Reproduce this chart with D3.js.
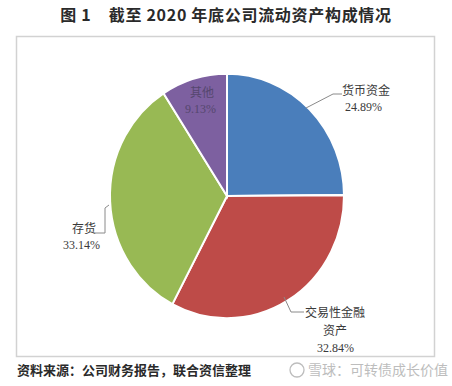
<!DOCTYPE html>
<html>
<head>
<meta charset="utf-8">
<script src="https://cdn.jsdelivr.net/npm/d3@7/dist/d3.min.js"></script>
<style>
  body { margin: 0; background: #fff; }
  svg { display: block; }
</style>
</head>
<body>
<div id="chart"></div>
<script>
// data
var categories = ["货币资金", "交易性金融资产", "存货", "其他"];
var values = [24.89, 32.84, 33.14, 9.13];
var colors = ["#4a7ebb", "#be4b48", "#98b954", "#7d60a0"];
var titleText = "图 1    截至 2020 年底公司流动资产构成情况";
var sourceText = "资料来源：公司财务报告，联合资信整理";
var markText = "雪球：可转债成长价值";

var w = 452, h = 386;
var cx = 227, cy = 196, r = 117;

var svg = d3.select("#chart").append("svg")
    .attr("width", w).attr("height", h)
    .style("font-family", "'Liberation Serif','Noto Sans CJK SC',serif");

// title
svg.append("text")
    .attr("x", 226).attr("y", 21)
    .attr("text-anchor", "middle")
    .style("font-family", "'Noto Sans CJK SC',sans-serif")
    .style("font-weight", "600")
    .style("font-size", "16px")
    .style("letter-spacing", "0.7px")
    .attr("fill", "#2a2a2a")
    .attr("xml:space", "preserve")
    .text(titleText);

// frame
svg.append("rect")
    .attr("x", 16.5).attr("y", 36.5)
    .attr("width", 418).attr("height", 320)
    .attr("fill", "none")
    .attr("stroke", "#d2d2d2")
    .attr("stroke-width", 1.5);

var pie = d3.pie().sort(null).value(function (d) { return d; });
var arcs = pie(values);
var arc = d3.arc().innerRadius(0).outerRadius(r);

var g = svg.append("g")
    .attr("transform", "translate(" + cx + "," + cy + ") scale(1,1.045)");

g.selectAll("path")
    .data(arcs)
    .enter().append("path")
    .attr("d", arc)
    .attr("fill", function (d, i) { return colors[i]; })
    .attr("stroke", "#fff")
    .attr("stroke-width", 2);

// labels
var fmt = function (v) { return v.toFixed(2) + "%"; };
var lab = svg.append("g").style("font-size", "12px").attr("fill", "#3a3a3a");

// 货币资金
lab.append("text").attr("x", 342).attr("y", 95).text(categories[0]);
lab.append("text").attr("x", 345).attr("y", 111).text(fmt(values[0]));
// 交易性金融资产
lab.append("text").attr("x", 305).attr("y", 317).text(categories[1].slice(0, 5));
lab.append("text").attr("x", 323).attr("y", 335).text(categories[1].slice(5));
lab.append("text").attr("x", 317).attr("y", 352).text(fmt(values[1]));
// 存货
lab.append("text").attr("x", 72).attr("y", 233).text(categories[2]);
lab.append("text").attr("x", 63).attr("y", 249).text(fmt(values[2]));
// 其他
lab.append("text").attr("x", 190).attr("y", 97).attr("fill", "#55476e").text(categories[3]);
lab.append("text").attr("x", 185).attr("y", 113).attr("fill", "#55476e").text(fmt(values[3]));

// leader lines
var leaders = [
  [[306, 108], [333, 94], [342, 94]],
  [[284, 297], [291, 312], [304, 312]],
  [[109, 205], [105, 208], [105, 233], [94, 233]]
];
svg.selectAll("polyline.lead")
    .data(leaders)
    .enter().append("polyline")
    .attr("class", "lead")
    .attr("points", function (d) { return d.map(function (p) { return p.join(","); }).join(" "); })
    .attr("fill", "none")
    .attr("stroke", "#8a8a8a")
    .attr("stroke-width", 1);

// source
svg.append("text")
    .attr("x", 17).attr("y", 375)
    .style("font-family", "'Noto Sans CJK SC',sans-serif")
    .style("font-weight", "600")
    .style("font-size", "13px")
    .attr("fill", "#2a2a2a")
    .text(sourceText);

// watermark
svg.append("circle").attr("cx", 297).attr("cy", 370).attr("r", 7)
    .attr("fill", "none").attr("stroke", "#bdbdbd").attr("stroke-width", 1.3);
svg.append("text")
    .attr("x", 308).attr("y", 375)
    .style("font-family", "'Noto Sans CJK SC',sans-serif")
    .style("font-size", "14px")
    .attr("fill", "#bdbdbd")
    .text(markText);
</script>
</body>
</html>
